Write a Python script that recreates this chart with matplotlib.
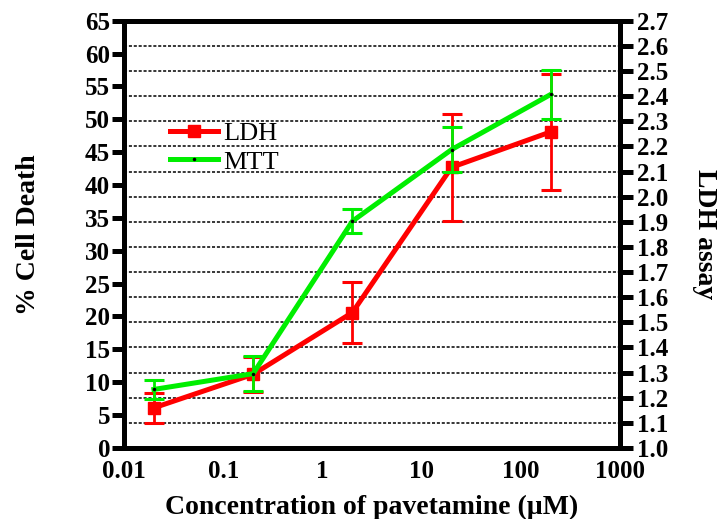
import matplotlib.pyplot as plt
from matplotlib.lines import Line2D
import numpy as np

plt.rcParams['font.family'] = ['Liberation Serif', 'DejaVu Serif']

conc = [0.02, 0.2, 2, 20, 200]
ldh = [6.1, 11.2, 20.6, 42.7, 48.1]
ldh_err = [2.3, 2.7, 4.6, 8.1, 8.8]
mtt = [8.9, 11.3, 34.5, 45.4, 53.8]
mtt_err = [1.5, 2.7, 1.8, 3.4, 3.7]

x_ticks = [0.01, 0.1, 1, 10, 100, 1000]
x_labels = ['0.01', '0.1', '1', '10', '100', '1000']
left_ticks = np.arange(0, 66, 5)
right_ticks = np.round(np.arange(1.0, 2.71, 0.1), 1)

red = '#ff0000'
green = '#00ee00'

fig = plt.figure(figsize=(7.17, 5.19), dpi=100)
ax = fig.add_axes([0.173, 0.137, 0.692, 0.823])
ax2 = ax.twinx()

# grid from the right axis, drawn under the data
ax2.set_ylim(1.0, 2.7)
ax2.set_yticks(right_ticks)
ax2.set_yticklabels(['%.1f' % v for v in right_ticks])
ax2.yaxis.grid(True, color='black', linestyle=(0, (2.0, 1.2)), linewidth=1.1)
ax.set_zorder(ax2.get_zorder() + 1)
ax.patch.set_visible(False)

ax.errorbar(conc, ldh, yerr=ldh_err, color=red, lw=3.6, marker='s', ms=8.5,
            elinewidth=2.0, capsize=7, capthick=2.2, zorder=3)
ax.errorbar(conc, mtt, yerr=mtt_err, color=green, lw=3.6, marker='.', ms=3,
            mfc='black', mec='black', elinewidth=2.0, capsize=7, capthick=2.2, zorder=4)

ax.set_xscale('log')
ax.set_xlim(0.01, 1000)
ax.set_ylim(0, 65)
ax.set_xticks(x_ticks)
ax.set_xticklabels(x_labels)
ax.xaxis.set_minor_locator(plt.NullLocator())
ax.set_yticks(left_ticks)

for a in (ax, ax2):
    for s in a.spines.values():
        s.set_linewidth(3.6)
    a.tick_params(axis='y', length=9, width=3.6, labelsize=18, pad=1)
    for lab in a.get_yticklabels():
        lab.set_fontweight('bold')
ax2.tick_params(axis='y', pad=3)
ax.tick_params(axis='x', length=0, labelsize=18, pad=9)
for lab in ax.get_xticklabels():
    lab.set_fontweight('bold')

ax.set_xlabel('Concentration of pavetamine (\u00b5M)', fontsize=20, fontweight='bold', labelpad=8)
ax.set_ylabel('% Cell Death', fontsize=20, fontweight='bold', labelpad=32)
ax2.set_ylabel('LDH assay', fontsize=20, fontweight='bold', rotation=270, labelpad=35)

handles = [Line2D([], [], color=red, lw=3.6, marker='s', ms=8.5),
           Line2D([], [], color=green, lw=3.6, marker='.', ms=3, mfc='black', mec='black')]
ax.legend(handles, ['LDH', 'MTT'], loc='upper left', bbox_to_anchor=(0.045, 0.82),
          frameon=False, fontsize=19, handlelength=1.8, handletextpad=0.2, labelspacing=0.2)

fig.savefig('out.png', dpi=100)
